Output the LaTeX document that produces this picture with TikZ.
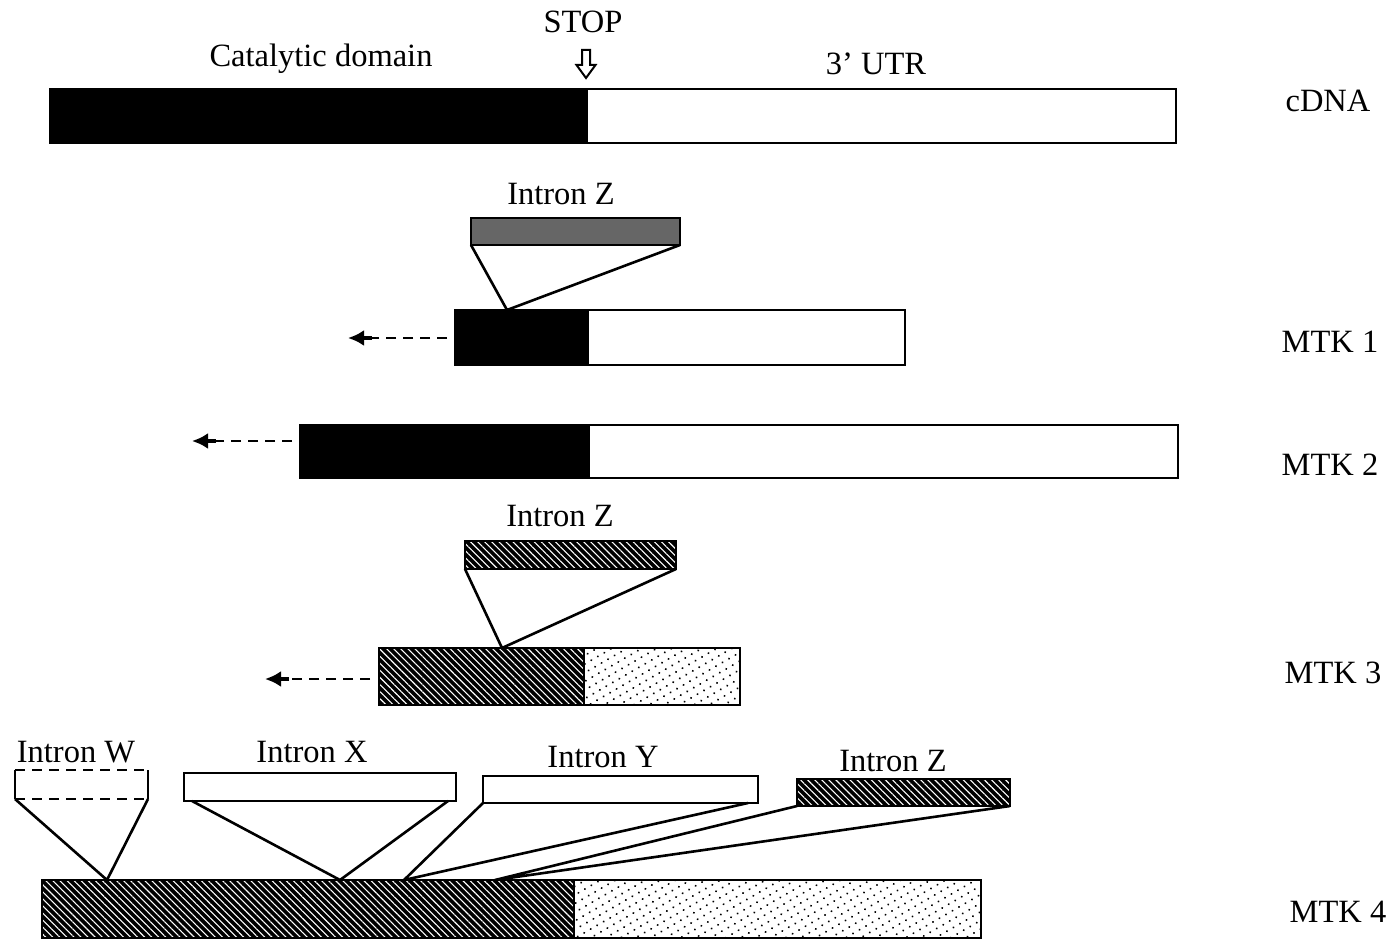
\documentclass[tikz,border=0pt]{standalone}
\usepackage{fontspec}
\setmainfont{Liberation Serif}
\usetikzlibrary{patterns.meta,arrows.meta}
\tikzset{
  lbl/.style={font=\fontsize{32.5}{38}\selectfont, inner sep=0pt, anchor=base},
  bar/.style={draw, line width=2.6pt, inner sep=0pt, outer sep=0pt, anchor=north west},
  solidbar/.style={bar, fill=black},
  whitebar/.style={bar, fill=white},
  graybar/.style={bar, fill=black!60},
  hatchbar/.style={bar, preaction={fill=black}, pattern={Lines[angle=-45,distance=5pt,line width=1.1pt]}, pattern color=white},
  dotbar/.style={bar, preaction={fill=white}, pattern={Dots[angle=30,distance=7.5pt,radius=1.1pt]}, pattern color=black},
  splice/.style={line width=2.6pt},
  dashline/.style={line width=2.5pt, dash pattern=on 10pt off 7pt},
  stub/.style={line width=4.5pt, -{Latex[length=16pt,width=16pt]}},
}
\begin{document}
\begin{tikzpicture}[x=1pt,y=-1pt]
\useasboundingbox (0,0) rectangle (1394,941);
% cDNA
\node[solidbar, minimum width=537pt, minimum height=54pt] (cd1) at (50,89) {};
\node[whitebar, minimum width=589pt, minimum height=54pt] (cd2) at (587,89) {};
\node[lbl] (tcat) at (321,67) {Catalytic domain};
\node[lbl] (tstop) at (583,33) {STOP};
\node[lbl] (tutr) at (876,75) {3’ UTR};
\node[lbl] (tcdna) at (1328,112) {cDNA};
\draw[line width=2pt, fill=white] (582,50) -- (590,50) -- (590,65) -- (595.5,65) -- (586,78) -- (576.5,65) -- (582,65) -- cycle;
% MTK1
\node[lbl] (tz1) at (561,205) {Intron Z};
\node[graybar, minimum width=209pt, minimum height=27pt] (z1) at (471,218) {};
\node[solidbar, minimum width=133pt, minimum height=55pt] (m1a) at (455,310) {};
\node[whitebar, minimum width=317pt, minimum height=55pt] (m1b) at (588,310) {};
\coordinate (p1) at (507,310);
\draw[splice] (z1.south west) -- (p1) -- (z1.south east);
\coordinate (d1) at (447,338);
\coordinate (s1) at (372,338);
\coordinate (a1) at (348,338);
\draw[dashline] (d1) -- (s1);
\draw[stub] (s1) -- (a1);
\node[lbl] (tm1) at (1330,352) {MTK 1};
% MTK2
\node[solidbar, minimum width=289pt, minimum height=53pt] (m2a) at (300,425) {};
\node[whitebar, minimum width=589pt, minimum height=53pt] (m2b) at (589,425) {};
\coordinate (d2) at (292,441);
\coordinate (s2) at (216,441);
\coordinate (a2) at (192,441);
\draw[dashline] (d2) -- (s2);
\draw[stub] (s2) -- (a2);
\node[lbl] (tm2) at (1330,475) {MTK 2};
% MTK3
\node[lbl] (tz2) at (560,526) {Intron Z};
\node[hatchbar, minimum width=211pt, minimum height=28pt] (z2) at (465,541) {};
\node[hatchbar, minimum width=205pt, minimum height=57pt] (m3a) at (379,648) {};
\node[dotbar, minimum width=156pt, minimum height=57pt] (m3b) at (584,648) {};
\coordinate (p2) at (502,648);
\draw[splice] (z2.south west) -- (p2) -- (z2.south east);
\coordinate (d3) at (370,679);
\coordinate (s3) at (289,679);
\coordinate (a3) at (265,679);
\draw[dashline] (d3) -- (s3);
\draw[stub] (s3) -- (a3);
\node[lbl] (tm3) at (1333,683) {MTK 3};
% MTK4
\node[hatchbar, minimum width=532pt, minimum height=58pt] (m4a) at (42,880) {};
\node[dotbar, minimum width=407pt, minimum height=58pt] (m4b) at (574,880) {};
\node[lbl] (tm4) at (1338,922) {MTK 4};
% Intron W
\node[lbl] (tw) at (76,762) {Intron W};
\node[inner sep=0pt, outer sep=0pt, anchor=north west, minimum width=133pt, minimum height=29pt] (iw) at (15,770) {};
\draw[line width=2.6pt] (iw.north west) -- (iw.south west);
\draw[line width=2.6pt] (iw.north east) -- (iw.south east);
\draw[line width=2.6pt, dash pattern=on 10pt off 7pt] (iw.north west) -- (iw.north east);
\draw[line width=2.6pt, dash pattern=on 10pt off 7pt] (iw.south west) -- (iw.south east);
\coordinate (pw) at (107,880);
\draw[splice] (iw.south west) -- (pw) -- (iw.south east);
% Intron X
\node[lbl] (tx) at (312,762) {Intron X};
\node[whitebar, minimum width=272pt, minimum height=28pt] (ix) at (184,773) {};
\coordinate (px) at (340,880);
\draw[splice] ([xshift=8pt]ix.south west) -- (px) -- ([xshift=-8pt]ix.south east);
% Intron Y
\node[lbl] (ty) at (603,767) {Intron Y};
\node[whitebar, minimum width=275pt, minimum height=27pt] (iy) at (483,776) {};
\coordinate (py) at (404,880);
\draw[splice] (iy.south west) -- (py) -- ([xshift=-10pt]iy.south east);
% Intron Z (MTK4)
\node[lbl] (tz3) at (893,771) {Intron Z};
\node[hatchbar, minimum width=213pt, minimum height=27pt] (iz) at (797,779) {};
\coordinate (pz) at (495,880);
\draw[splice] (iz.south west) -- (pz) -- (iz.south east);
\end{tikzpicture}
\end{document}
